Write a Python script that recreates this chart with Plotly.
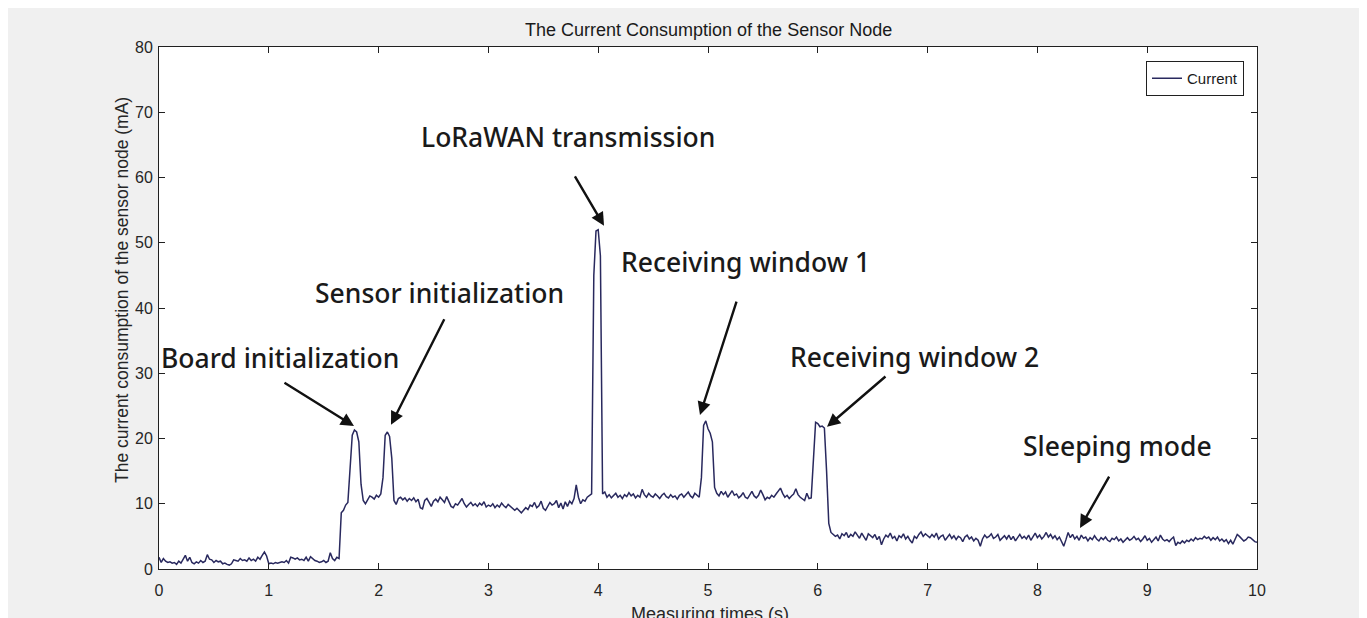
import plotly.graph_objects as go

# ---------------- data ----------------
SAMPLE_INTERVAL_S = 0.02
current_mA = [
    # 0.00 - 0.48 s
    1.8, 1.0, 1.6, 1.2, 1.0, 1.1, 0.9, 1.0, 0.7, 1.2, 0.9, 1.5, 2.1, 1.2, 1.8, 1.0, 0.8, 1.1, 0.9, 1.3, 1.0, 1.2, 2.2, 1.5, 1.4,
    # 0.50 - 0.98 s
    1.0, 1.3, 1.1, 1.2, 0.8, 0.9, 0.7, 0.6, 0.8, 1.4, 1.3, 1.2, 1.6, 1.3, 1.4, 1.2, 1.7, 1.3, 1.5, 1.2, 1.8, 1.5, 2.1, 2.6, 2.0,
    # 1.00 - 1.48 s
    0.8, 0.9, 0.8, 1.0, 0.9, 1.0, 1.1, 1.0, 1.3, 0.9, 1.8, 1.7, 1.5, 1.7, 1.4, 1.5, 1.3, 1.8, 1.2, 1.9, 1.6, 1.3, 1.2, 1.0, 1.1,
    # 1.50 - 1.98 s
    1.3, 1.0, 1.2, 2.5, 1.6, 1.3, 1.8, 1.6, 8.6, 9.0, 9.8, 10.2, 15.0, 20.5, 21.3, 21.0, 19.5, 13.0, 10.5, 10.0, 10.6, 11.2, 11.0, 10.7, 11.3,
    # 2.00 - 2.48 s
    11.0, 11.5, 14.0, 20.5, 21.0, 20.3, 17.0, 10.5, 9.9, 10.8, 11.0, 10.6, 10.9, 10.4, 10.8, 10.5, 10.9, 10.3, 10.7, 9.4, 9.2, 10.5, 10.8, 10.2, 9.6,
    # 2.50 - 2.98 s
    10.4, 10.7, 10.3, 11.0, 10.6, 10.2, 11.1, 10.4, 9.6, 9.4, 10.0, 9.8, 10.3, 10.8, 10.0, 9.5, 9.9, 10.2, 9.7, 10.0, 9.6, 10.1, 9.8, 10.3, 9.5,
    # 3.00 - 3.48 s
    9.8, 9.6, 10.0, 9.4, 9.8, 9.5, 10.1, 9.7, 9.4, 9.9, 9.6, 9.2, 9.0, 9.3, 8.9, 8.6, 9.0, 9.4, 9.1, 9.8, 9.6, 10.2, 9.4, 9.7, 10.4,
    # 3.50 - 3.98 s
    9.3, 9.0, 9.6, 10.2, 9.8, 10.0, 10.5, 9.4, 10.1, 9.2, 10.3, 9.6, 10.4, 10.0, 10.8, 12.9, 11.0, 10.0, 10.6, 10.4, 11.0, 11.2, 11.5, 45.0, 51.8,
    # 4.00 - 4.48 s
    52.0, 48.0, 11.5, 11.8, 11.0, 11.4, 10.9, 11.2, 11.6, 11.0, 11.3, 10.8, 11.4, 11.1, 11.7, 11.2, 11.5, 10.9, 11.3, 11.0, 12.2, 11.4, 11.0, 11.6, 11.2,
    # 4.50 - 4.98 s
    11.0, 11.5, 11.2, 10.8, 11.3, 11.6, 11.1, 10.9, 11.4, 11.0, 11.2, 10.7, 11.3, 11.5, 11.0, 11.4, 11.8, 11.2, 10.9, 11.6, 11.3, 11.0, 14.0, 22.0, 22.7,
    # 5.00 - 5.48 s
    21.5, 20.8, 19.5, 12.5, 11.6, 11.2, 11.9, 11.4, 11.8, 11.0, 11.6, 12.0, 11.3, 11.5, 10.9, 11.2, 11.7, 11.0, 10.8, 11.4, 11.9, 11.2, 10.9, 11.3, 12.1,
    # 5.50 - 5.98 s
    11.4, 10.6, 11.0, 10.8, 11.3, 11.0, 11.5, 12.0, 12.4, 11.6, 11.0, 11.3, 10.8, 11.2, 11.5, 12.3, 11.4, 11.0, 10.7, 10.5, 11.6, 10.8, 10.9, 16.0, 22.5,
    # 6.00 - 6.48 s
    22.3, 21.8, 21.9, 21.6, 15.0, 7.0, 5.6, 5.3, 5.0, 5.2, 4.6, 5.4, 5.1, 5.6, 4.8, 5.3, 5.0, 5.7, 5.2, 4.7, 5.5, 5.0, 4.4, 5.4, 5.1,
    # 6.50 - 6.98 s
    4.8, 5.3, 4.5, 5.0, 3.7, 4.6, 5.2, 4.9, 5.5, 4.7, 5.0, 4.3, 5.1, 4.8, 5.4, 4.6, 5.0, 4.4, 4.0, 5.0, 4.7, 5.3, 5.7, 5.0, 5.4,
    # 7.00 - 7.48 s
    5.1, 4.8, 5.3, 4.9, 5.5, 4.6, 5.0, 5.2, 4.4, 4.9, 5.3, 4.7, 5.1, 4.5, 5.0, 4.8, 4.2, 4.9, 5.2, 4.6, 4.9, 4.3, 4.7, 4.4, 3.5,
    # 7.50 - 7.98 s
    4.6, 5.2, 4.8, 5.0, 5.4, 4.7, 4.9, 5.3, 4.4, 4.8, 5.1, 4.6, 5.2, 4.5, 5.0, 4.3, 4.9, 5.3, 4.7, 5.0, 4.6, 5.2, 4.4, 4.9, 5.5,
    # 8.00 - 8.48 s
    4.8, 5.2, 4.6, 5.0, 5.6, 4.9, 5.3, 4.7, 5.1, 4.5, 4.9, 4.2, 3.5, 4.5, 5.6, 4.8, 5.3, 4.6, 5.0, 4.4, 5.2, 4.7, 4.9, 4.3, 4.8,
    # 8.50 - 8.98 s
    4.5, 5.1, 4.6, 4.3, 4.8, 4.5, 4.9, 4.4, 4.2, 4.7, 4.5, 4.9, 4.3, 4.6, 4.1, 4.5, 4.8, 4.4, 4.6, 5.0, 4.5, 4.7, 4.2, 4.6, 5.1,
    # 9.00 - 9.48 s
    4.4, 4.7, 4.1, 4.5, 4.9, 4.3, 5.2, 4.6, 4.3, 4.5, 4.2, 4.6, 4.9, 3.6, 4.1, 3.9, 4.3, 4.0, 4.4, 4.2, 4.6, 4.3, 4.8, 4.5, 4.7,
    # 9.50 - 9.98 s
    4.6, 5.0, 4.7, 4.9, 4.4, 4.8, 4.5, 4.9, 4.3, 4.6, 4.2, 4.5, 3.9, 4.4, 3.8, 4.6, 5.3, 5.0, 4.6, 4.3, 4.5, 4.9, 4.8, 4.5, 4.2,
    # 10.00 s
    4.1,
]
time_s = [round(i * SAMPLE_INTERVAL_S, 2) for i in range(len(current_mA))]

x_ticks = [0, 1, 2, 3, 4, 5, 6, 7, 8, 9, 10]
y_ticks = [0, 10, 20, 30, 40, 50, 60, 70, 80]

# annotation labels: text, text centre (x, y), arrow tip (x, y), arrow tail (x, y)
label_texts = ["Board initialization", "Sensor initialization", "LoRaWAN transmission",
               "Receiving window 1", "Receiving window 2", "Sleeping mode"]
label_x = [1.10, 2.555, 3.725, 5.337, 6.885, 8.734]
label_y = [32.3, 42.3, 66.2, 47.05, 32.5, 18.85]
tip_x = [1.776, 2.113, 4.053, 4.927, 6.084, 8.388]
tip_y = [21.9, 22.1, 52.6, 23.6, 21.8, 6.3]
tail_x = [1.129, 2.605, 3.780, 5.264, 6.630, 8.661]
tail_y = [28.7, 38.5, 60.4, 41.2, 29.7, 14.4]

# ---------------- figure ----------------
# the page body has an 8 px margin, so the figure starts at screen (8, 8)
OFF = 8
W, H = 1355, 610
ML, MR, MT, MB = 151, 106, 39, 49
plot_w = W - ML - MR
plot_h = H - MT - MB


def sy_to_paper(sy):
    return (H - MB - (sy - OFF)) / plot_h


def sx_to_paper(sx):
    return (sx - OFF - ML) / plot_w


fig = go.Figure()
fig.add_trace(go.Scatter(
    x=time_s, y=current_mA, mode="lines", name="Current",
    line=dict(color="#29295e", width=1.5),
))

tick_font = dict(family="Liberation Sans, Arial, sans-serif", size=16, color="#262626")
axis_common = dict(
    showline=True, linecolor="#202020", linewidth=1, mirror="ticks",
    ticks="inside", ticklen=6, tickwidth=1, tickcolor="#202020",
    showgrid=False, zeroline=False, tickfont=tick_font,
)
fig.update_xaxes(range=[0, 10], tickvals=x_ticks, ticklabelstandoff=7, **axis_common)
fig.update_yaxes(range=[0, 80], tickvals=y_ticks, ticklabelstandoff=2, **axis_common)

annotations = []
for t, lx, ly in zip(label_texts, label_x, label_y):
    annotations.append(dict(
        x=lx, y=ly, xref="x", yref="y", text=t, showarrow=False,
        xanchor="center", yanchor="middle",
        font=dict(family="Noto Sans, sans-serif", size=26.5, color="#1a1a1a", weight=500),
    ))
for hx, hy, txx, tyy in zip(tip_x, tip_y, tail_x, tail_y):
    annotations.append(dict(
        x=hx, y=hy, xref="x", yref="y", ax=txx, ay=tyy, axref="x", ayref="y",
        text="", showarrow=True, arrowhead=2, arrowsize=1.1, arrowwidth=2.4,
        arrowcolor="#111111", standoff=0,
    ))

# title and axis titles
annotations.append(dict(
    x=0.5, y=sy_to_paper(30), xref="paper", yref="paper",
    text="The Current Consumption of the Sensor Node", showarrow=False,
    xanchor="center", yanchor="middle",
    font=dict(family="Liberation Sans, Arial, sans-serif", size=18, color="#1a1a1a"),
))
annotations.append(dict(
    x=sx_to_paper(122), y=sy_to_paper(290), xref="paper", yref="paper",
    text="The current consumption of the sensor node (mA)", showarrow=False,
    textangle=-90, xanchor="center", yanchor="middle",
    font=dict(family="Liberation Sans, Arial, sans-serif", size=17.5, color="#262626"),
))
annotations.append(dict(
    x=sx_to_paper(710), y=sy_to_paper(614), xref="paper", yref="paper",
    text="Measuring times (s)", showarrow=False,
    xanchor="center", yanchor="middle",
    font=dict(family="Liberation Sans, Arial, sans-serif", size=18, color="#262626"),
))

fig.update_layout(
    width=W, height=H,
    margin=dict(l=ML, r=MR, t=MT, b=MB, pad=0),
    paper_bgcolor="#f0f0f0", plot_bgcolor="white",
    showlegend=True,
    legend=dict(
        x=sx_to_paper(1244), y=sy_to_paper(61), xanchor="right", yanchor="top",
        bgcolor="white", bordercolor="#202020", borderwidth=1,
        font=dict(family="Liberation Sans, Arial, sans-serif", size=15, color="#1a1a1a"),
        tracegroupgap=0, itemwidth=30,
    ),
    annotations=annotations,
)

fig.write_html("out.html")
